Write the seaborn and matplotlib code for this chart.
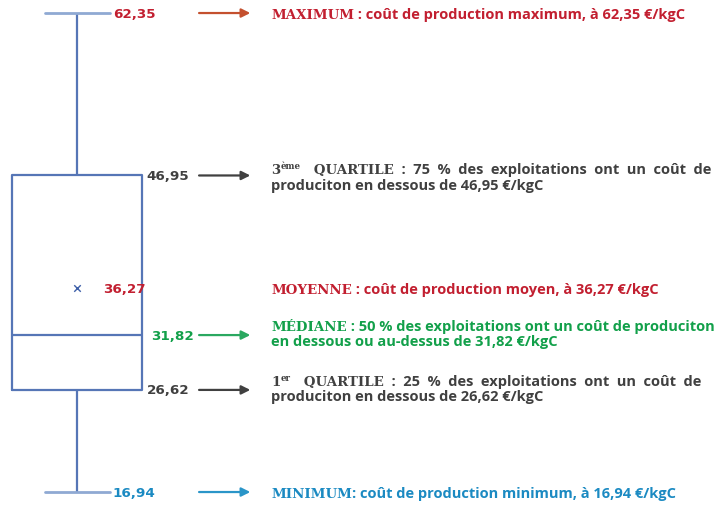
import matplotlib
matplotlib.use("Agg")
import matplotlib.pyplot as plt
import seaborn as sns
import pandas as pd

# résumé du coût de production (€/kgC)
stat_names = ["Minimum", "1er quartile", "Médiane", "3ème quartile", "Maximum"]
stat_values = [16.94, 26.62, 31.82, 46.95, 62.35]
value_labels = ["16,94", "26,62", "31,82", "46,95", "62,35"]
moyenne = 36.27
moyenne_label = "36,27"

RED = "#c21f30"
GREY = "#404040"
GREEN = "#12a04a"
BLUE = "#1b8ac2"
BOX = "#5676b6"

sns.set_theme(style="white")
plt.rcParams["font.family"] = ["Open Sans", "DejaVu Sans"]

fig = plt.figure(figsize=(7.19, 5.06), dpi=100)
ax = fig.add_axes([0, 0, 1, 1])

df = pd.DataFrame({"cout": stat_values})
sns.boxplot(data=df, y="cout", whis=(0, 100), width=0.8, fill=False,
            color=BOX, linewidth=1.6, showfliers=False, ax=ax,
            capprops={"color": "#8fa9d3", "linewidth": 2})
ax.scatter([0], [moyenne], marker="x", color="#3d5fa8", s=22, linewidths=1, zorder=5)

ax.set_xlim(-77 / 162.5, 642 / 162.5)
ax.set_ylim(min(stat_values) - 1.23, max(stat_values) + 1.33)
ax.axis("off")

tr = ax.get_yaxis_transform()
SERIF = dict(family="DejaVu Serif", fontweight="bold", fontsize=9.6)
SANS = dict(family=["Open Sans", "DejaVu Sans"], fontweight="bold", fontsize=10.5)
SUP = dict(family="DejaVu Serif", fontweight="bold", fontsize=6.2)
TX = 0.377


def chain(y, parts, dy=-3.5):
    # écrit une suite de morceaux de texte côte à côte, sur une même ligne
    first = None
    prev = None
    for txt, style, color, sup in parts:
        if first is None:
            first = prev = ax.annotate(txt, xy=(TX, y), xycoords=tr, xytext=(0, dy),
                                       textcoords="offset points", va="baseline",
                                       ha="left", color=color, **style)
        elif sup:
            prev = ax.annotate(txt, xy=(1, 0.5), xycoords=prev,
                               va="bottom", ha="left", color=color, **style)
        else:
            prev = ax.annotate(txt, xy=(1, 0), xycoords=(prev, first),
                               va="bottom", ha="left", color=color, **style)
    return prev


def arrow(y, color):
    ax.annotate("", xy=(0.352, y), xycoords=tr, xytext=(0.273, y),
                textcoords=tr,
                arrowprops=dict(arrowstyle="-|>", color=color, lw=1.6,
                                mutation_scale=13))


def value(x, y, txt, color):
    ax.text(x, y, txt, transform=tr, va="center", ha="left", color=color,
            family="DejaVu Sans", fontweight="bold", fontsize=9.7)


mn, q1, med, q3, mx = stat_values

# maximum
value(0.157, mx, value_labels[4], RED)
arrow(mx, "#c4502e")
chain(mx, [("MAXIMUM", SERIF, RED, False),
           (" : coût de production maximum, à 62,35 €/kgC", SANS, RED, False)])

# 3e quartile
value(0.204, q3, value_labels[3], GREY)
arrow(q3, GREY)
chain(q3, [("3", SERIF, GREY, False), ("ème", SUP, GREY, True),
           ("   QUARTILE", SERIF, GREY, False),
           ("  :  75  %  des  exploitations  ont  un  coût  de", SANS, GREY, False)], dy=1.5)
chain(q3, [("produciton en dessous de 46,95 €/kgC", SANS, GREY, False)], dy=-9.5)

# moyenne
value(0.143, moyenne, moyenne_label, RED)
chain(moyenne, [("MOYENNE", SERIF, RED, False),
                (" : coût de production moyen, à 36,27 €/kgC", SANS, RED, False)])

# médiane
value(0.21, med, value_labels[2], GREEN)
arrow(med, "#2aa860")
chain(med, [("MÉDIANE", SERIF, GREEN, False),
            (" : 50 % des exploitations ont un coût de produciton", SANS, GREEN, False)], dy=3.5)
chain(med, [("en dessous ou au-dessus de 31,82 €/kgC", SANS, GREEN, False)], dy=-7.5)

# 1er quartile
value(0.204, q1, value_labels[1], GREY)
arrow(q1, GREY)
chain(q1, [("1", SERIF, GREY, False), ("er", SUP, GREY, True),
           ("   QUARTILE", SERIF, GREY, False),
           ("  :  25  %  des  exploitations  ont  un  coût  de", SANS, GREY, False)], dy=3.5)
chain(q1, [("produciton en dessous de 26,62 €/kgC", SANS, GREY, False)], dy=-7.5)

# minimum
value(0.157, mn, value_labels[0], BLUE)
arrow(mn, "#2a95c8")
chain(mn, [("MINIMUM", SERIF, BLUE, False),
           (": coût de production minimum, à 16,94 €/kgC", SANS, BLUE, False)])

fig.savefig("out.png", dpi=100)
